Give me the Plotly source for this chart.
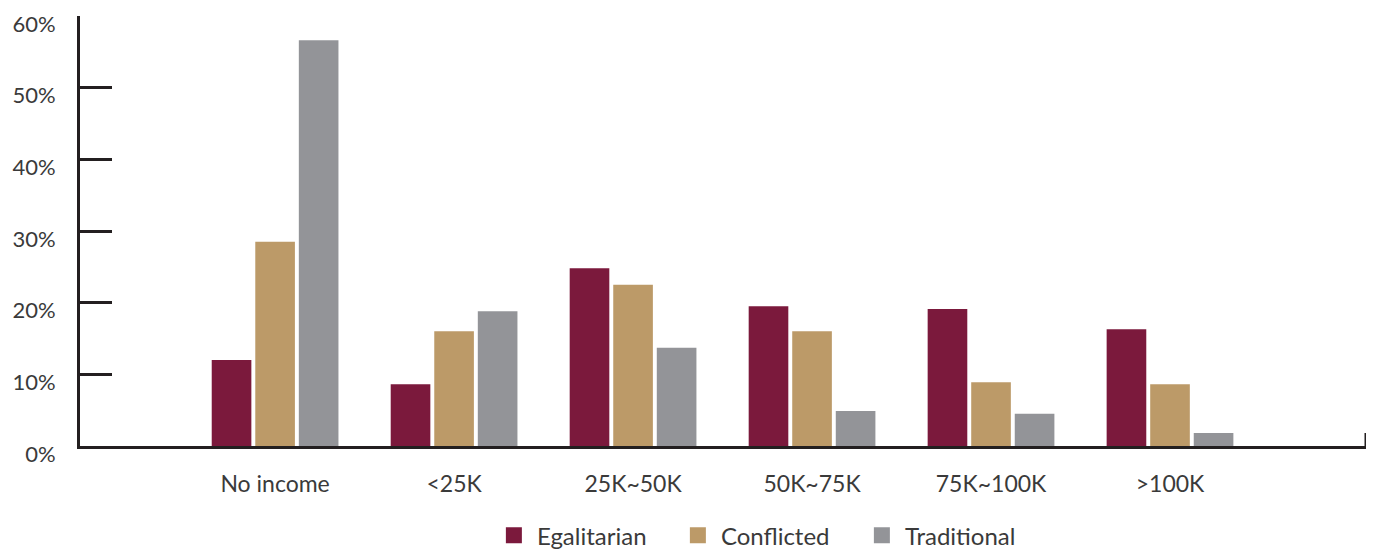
import plotly.graph_objects as go

# income brackets on the x axis
categories = ["No income", "<25K", "25K~50K", "50K~75K", "75K~100K", ">100K"]

# share of each group (percent)
egalitarian = [12.0, 8.6, 24.8, 19.5, 19.1, 16.3]
conflicted = [28.5, 16.0, 22.5, 16.0, 8.9, 8.6]
traditional = [56.6, 18.8, 13.7, 4.9, 4.5, 1.8]

# y axis ticks
y_ticks = [0, 10, 20, 30, 40, 50, 60]
y_labels = ["0%", "10%", "20%", "30%", "40%", "50%", "60%"]

series = [
    ("Egalitarian", egalitarian, "#7B193C"),
    ("Conflicted", conflicted, "#BC9A68"),
    ("Traditional", traditional, "#939498"),
]

axis_color = "#231F20"
text_color = "#3A3A3A"
font_family = "Lato, 'Open Sans', sans-serif"

fig = go.Figure()

for name, vals, color in series:
    fig.add_trace(go.Bar(x=categories, y=vals, name=name, marker_color=color,
                         marker_line_width=0, showlegend=False))
    # legend entry with a bigger square than the bar legend gives
    fig.add_trace(go.Scatter(x=[None], y=[None], mode="markers", name=name,
                             marker=dict(symbol="square", size=22, color=color)))

# the page body adds an 8px offset, margins account for it
fig.update_layout(
    width=1374,
    height=552,
    margin=dict(l=72, r=16, t=8, b=114, autoexpand=False),
    paper_bgcolor="white",
    plot_bgcolor="white",
    barmode="group",
    bargap=0.27,
    bargroupgap=0.09,
    font=dict(family=font_family, size=23, color=text_color),
    legend=dict(orientation="h", x=0.3195, xanchor="left",
                yref="container", y=0.044, yanchor="middle",
                entrywidth=133, entrywidthmode="pixels",
                font=dict(size=24, color=text_color), itemwidth=36, traceorder="normal"),
    showlegend=True,
)

fig.update_xaxes(
    type="category",
    range=[-1.09, 6.095],
    automargin=False,
    showline=True, linecolor=axis_color, linewidth=3,
    ticks="", showgrid=False, zeroline=False,
    ticklabelstandoff=15,
    tickfont=dict(size=23, color=text_color),
)

fig.update_yaxes(
    range=[0, 60],
    automargin=False,
    tickmode="array",
    tickvals=y_ticks,
    ticktext=y_labels,
    ticklabeloverflow="allow",
    ticklabelshift=8,
    showline=True, linecolor=axis_color, linewidth=3,
    ticks="inside", ticklen=32, tickwidth=3, tickcolor=axis_color,
    showgrid=False, zeroline=False,
    ticklabelstandoff=17,
    tickfont=dict(size=22, color=text_color),
)

# small upturned end at the right of the x axis
fig.add_shape(type="line", xref="paper", yref="paper", x0=1, x1=1, y0=0, y1=0.03,
              line=dict(color=axis_color, width=3))

fig.write_html("out.html")
